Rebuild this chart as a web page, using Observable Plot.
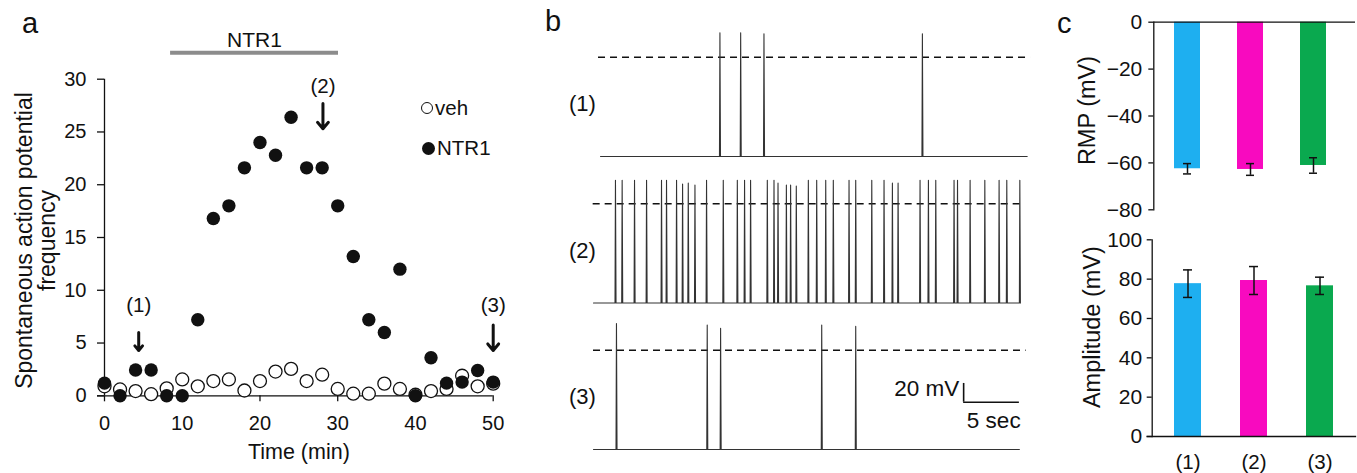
<!DOCTYPE html>
<html><head><meta charset="utf-8">
<script src="https://cdn.jsdelivr.net/npm/d3@7"></script>
<script src="https://cdn.jsdelivr.net/npm/@observablehq/plot@0.6"></script>
<style>
body{margin:0;background:#fff;font-family:"Liberation Sans",Arial,sans-serif;}
#root{position:relative;width:1357px;height:473px;overflow:hidden;background:#fff;}
.panel{position:absolute;}
.plabel{position:absolute;font-size:29px;color:#111;line-height:1;}
.leg{position:absolute;font-size:20.5px;display:flex;align-items:center;color:#111;line-height:1;}
.leg i{display:inline-block;border-radius:50%;box-sizing:border-box;margin-right:2px;}
</style></head><body><div id="root"></div>
<script>
const FONT = '"Liberation Sans", Arial, sans-serif';
const FS = 20;
const INK = "#111";

// ---------- Panel a data ----------
const timeMin  = [0,2,4,6,8,10,12,14,16,18,20,22,24,26,28,30,32,34,36,38,40,42,44,46,48,50];
const vehFreq  = [0.9,0.6,0.45,0.15,0.7,1.55,0.9,1.4,1.55,0.5,1.4,2.3,2.55,1.4,2.0,0.65,0.2,0.2,1.15,0.65,0.1,0.45,0.65,1.9,0.9,1.15];
const ntr1Freq = [1.2,0,2.45,2.45,0,0,7.2,16.8,18.0,21.6,24.0,22.8,26.4,21.6,21.6,18.0,13.2,7.2,6.0,12.0,0,3.6,1.2,1.3,2.4,1.3];
const xTicksA = [0,10,20,30,40,50];
const yTicksA = [0,5,10,15,20,25,30];
const arrowLabels = ["(1)","(2)","(3)"];
const arrowTime   = [4.4, 28.1, 50];
const arrowTop    = [6.0, 27.7, 6.7];
const arrowBottom = [4.3, 25.3, 4.3];
const arrowLabelY = [8.55, 29.3, 8.55];
const drugName = "NTR1";
const drugStart = 8.5, drugEnd = 30.1, drugBarLevel = 32.5, drugLabelLevel = 33.7;
const legendLabels = ["veh", "NTR1"];

// ---------- Panel b data ----------
const traceLabels = ["(1)","(2)","(3)"];
const spikeTimes1 = [11.34, 13.2, 15.29, 29.5];
const spikePeaks1 = [26, 26, 25, 25];
const spikeTimes2 = [1.97,2.57,3.68,4.76,6.10,6.55,7.45,7.99,8.50,9.10,10.14,11.64,12.90,13.55,14.09,15.59,16.19,16.55,17.30,17.68,18.19,19.27,20.02,20.83,21.51,22.92,23.52,24.96,26.06,26.81,27.32,29.29,30.04,30.70,32.34,32.65,33.78,35.10,36.38,37.07,38.24];
const spikePeaks2 = [25,25,25,25,25,25,25,21,22,20,25,25,25,25,25,25,25,22,20,20,19,25,25,25,25,25,25,25,25,22,22,25,25,25,25,25,25,25,25,25,25];
const spikeTimes3 = [2.06, 10.2, 11.4, 20.47, 23.52];
const spikePeaks3 = [28.6, 27, 23.6, 27, 25.5];
const traceStart = [0.63, 0, 0];
const traceEnd   = [38.9, 38.3, 38.2];
const dashStart  = [0.45, -0.03, 0];
const dashEnd    = [39.2, 38.6, 38.8];
const restLevel = -106;     // mV relative to the dashed 0 mV line
const traceOffset = 156.5;  // vertical stacking (mV)
const scaleBarTime = 33.2, scaleBarSec = 5, scaleBarLevel = -368.4, scaleBarMV = 20;

// ---------- Panel c data ----------
const conditions = ["(1)","(2)","(3)"];
const rmpMean = [-62.5, -62.8, -61.1];
const rmpErr  = [2.2, 2.5, 3.3];
const ampMean = [77.7, 79.3, 76.6];
const ampErr  = [7.0, 7.1, 4.4];
const barColors = ["#1eaff0", "#f80abf", "#0aa94f"];
const rmpTicks = [-80,-60,-40,-20,0];
const ampTicks = [0,20,40,60,80,100];

const root = document.getElementById("root");
function place(el, left, top) {
  const d = document.createElement("div");
  d.className = "panel"; d.style.left = left + "px"; d.style.top = top + "px";
  d.appendChild(el); root.appendChild(d);
}
function label(txt, left, top) {
  const d = document.createElement("div");
  d.className = "plabel"; d.textContent = txt;
  d.style.left = left + "px"; d.style.top = top + "px";
  root.appendChild(d);
}
const baseStyle = {fontFamily: FONT, fontSize: FS + "px", color: INK, background: "transparent", overflow: "visible"};

// ---------- Panel a ----------
const vehRows = timeMin.map((t, i) => ({t, f: vehFreq[i]}));
const ntrRows = timeMin.map((t, i) => ({t, f: ntr1Freq[i]}));
const arrowRows = arrowLabels.map((l, i) => ({l, x: arrowTime[i], y1: arrowTop[i], y2: arrowBottom[i], ly: arrowLabelY[i]}));
const plotA = Plot.plot({
  width: 540, height: 473,
  marginLeft: 104, marginRight: 47.3, marginTop: 78.7, marginBottom: 77.7,
  x: {domain: [0, 50]}, y: {domain: [0, 30]},
  style: baseStyle,
  marks: [
    Plot.axisX({ticks: xTicksA, tickSize: 6, tickPadding: 13.5, label: null, fontSize: FS, strokeWidth: 1.3}),
    Plot.axisY({ticks: yTicksA, tickSize: 7, tickPadding: 11, label: null, fontSize: FS, strokeWidth: 1.3}),
    Plot.ruleX([0], {y1: 0, y2: 30, stroke: INK, strokeWidth: 1.3}),
    Plot.ruleY([0], {x1: -0.9, x2: 50, stroke: INK, strokeWidth: 1.3}),
    Plot.dot(vehRows, {x: "t", y: "f", r: 6.5, fill: "white", stroke: INK, strokeWidth: 1.3}),
    Plot.dot(ntrRows, {x: "t", y: "f", r: 6.7, fill: INK, stroke: "none"}),
    Plot.ruleY([drugBarLevel], {x1: drugStart, x2: drugEnd, stroke: "#8c8c8c", strokeWidth: 4}),
    Plot.text([drugName], {x: (drugStart + drugEnd) / 2, y: drugLabelLevel, text: d => d, fontSize: 21, fill: INK}),
    Plot.arrow(arrowRows, {x1: "x", y1: "y1", x2: "x", y2: "y2", stroke: INK, strokeWidth: 3, headLength: 12, headAngle: 80}),
    Plot.text(arrowRows, {x: "x", y: "ly", text: "l", fontSize: 20.5, fill: INK}),
    Plot.text(["Time (min)"], {frameAnchor: "bottom", dy: 56.5, lineAnchor: "middle", text: d => d, fontSize: 21.5, fill: INK}),
    Plot.text(["Spontaneous action potential\nfrequency"], {frameAnchor: "left", textAnchor: "middle", rotate: -90, dx: -68.2, dy: 3, lineAnchor: "middle", lineHeight: 1.0, text: d => d, fontSize: 23, fill: INK})
  ]
});
place(plotA, 0, 0);
label("a", 22, 9);
// legend
const leg1 = document.createElement("div");
leg1.className = "leg"; leg1.style.left = "421px"; leg1.style.top = "98px";
leg1.innerHTML = '<i style="width:12px;height:12px;border:1.3px solid #111;background:#fff"></i>' + legendLabels[0];
root.appendChild(leg1);
const leg2 = document.createElement("div");
leg2.className = "leg"; leg2.style.left = "422px"; leg2.style.top = "138px";
leg2.innerHTML = '<i style="width:13px;height:13px;background:#111"></i>' + legendLabels[1];
root.appendChild(leg2);

// ---------- Panel b ----------
const spikeSets = [[spikeTimes1, spikePeaks1], [spikeTimes2, spikePeaks2], [spikeTimes3, spikePeaks3]];
const tracePts = [];
spikeSets.forEach(([times, peaks], k) => {
  const off = -traceOffset * k;
  tracePts.push({k, t: traceStart[k], v: restLevel + off});
  times.forEach((s, j) => {
    tracePts.push({k, t: s - 0.04, v: restLevel + off});
    tracePts.push({k, t: s, v: peaks[j] + off});
    tracePts.push({k, t: s + 0.05, v: restLevel + off});
  });
  tracePts.push({k, t: traceEnd[k], v: restLevel + off});
});
const dashRows = traceLabels.map((l, k) => ({v: -traceOffset * k, t1: dashStart[k], t2: dashEnd[k]}));
const tlabRows = traceLabels.map((l, k) => ({l, t: -1.0, v: -traceOffset * k - 50}));
const plotB = Plot.plot({
  width: 500, height: 473,
  marginLeft: 53, marginRight: 20, marginTop: 56.7, marginBottom: 23,
  x: {domain: [0, 38.3], axis: null}, y: {domain: [-420, 0], axis: null},
  style: baseStyle,
  marks: [
    Plot.ruleY(dashRows, {y: "v", x1: "t1", x2: "t2", stroke: INK, strokeWidth: 1.6, strokeDasharray: "7,5"}),
    Plot.line(tracePts, {x: "t", y: "v", z: "k", stroke: "#333", strokeWidth: 1.1}),
    Plot.text(tlabRows, {x: "t", y: "v", text: "l", fontSize: 22, fill: INK}),
    Plot.ruleX([scaleBarTime], {y1: scaleBarLevel, y2: scaleBarLevel + scaleBarMV, stroke: INK, strokeWidth: 1.6}),
    Plot.ruleY([scaleBarLevel], {x1: scaleBarTime, x2: scaleBarTime + scaleBarSec, stroke: INK, strokeWidth: 1.6}),
    Plot.text([scaleBarMV + " mV"], {x: scaleBarTime - 0.4, y: scaleBarLevel + 14.6, text: d => d, textAnchor: "end", fontSize: 22.5, fill: INK}),
    Plot.text([scaleBarSec + " sec"], {x: scaleBarTime + 2.7, y: scaleBarLevel - 20, text: d => d, fontSize: 22.5, fill: INK})
  ]
});
place(plotB, 540, 0);
label("b", 545, 7);

// ---------- Panel c ----------
const rmpRows = conditions.map((c, i) => ({c, m: rmpMean[i], lo: rmpMean[i] - rmpErr[i], hi: rmpMean[i] + rmpErr[i]}));
const ampRows = conditions.map((c, i) => ({c, m: ampMean[i], lo: ampMean[i] - ampErr[i], hi: ampMean[i] + ampErr[i]}));
const plotC1 = Plot.plot({
  width: 317, height: 230,
  marginLeft: 113.3, marginRight: 2, marginTop: 21.7, marginBottom: 20.7,
  x: {domain: conditions, paddingInner: 0.594, paddingOuter: 0.373, align: 0.42, axis: null},
  y: {domain: [-80, 0]},
  color: {domain: conditions, range: barColors},
  style: baseStyle,
  marks: [
    Plot.barY(rmpRows, {x: "c", y: "m", fill: "c"}),
    Plot.ruleX(rmpRows, {x: "c", y1: "lo", y2: "hi", stroke: INK, strokeWidth: 1.5}),
    Plot.tickY(rmpRows, {x: "c", y: "lo", stroke: INK, strokeWidth: 1.5, insetLeft: 9, insetRight: 9}),
    Plot.tickY(rmpRows, {x: "c", y: "hi", stroke: INK, strokeWidth: 1.5, insetLeft: 9, insetRight: 9}),
    Plot.axisY({ticks: rmpTicks, tickSize: 5, tickPadding: 6.5, label: null, fontSize: 21, strokeWidth: 1.3}),
    Plot.frame({anchor: "left", stroke: INK, strokeWidth: 1.3}),
    Plot.ruleY([0], {stroke: INK, strokeWidth: 1.3}),
    Plot.text(["RMP (mV)"], {frameAnchor: "left", textAnchor: "middle", rotate: -90, dx: -66.6, dy: -5.5, text: d => d, fontSize: 23.5, fill: INK})
  ]
});
place(plotC1, 1040, 0);
const plotC2 = Plot.plot({
  width: 317, height: 243,
  marginLeft: 111.7, marginRight: 2, marginTop: 9.3, marginBottom: 37,
  x: {domain: conditions, paddingInner: 0.597, paddingOuter: 0.316, align: 0.5},
  y: {domain: [0, 100]},
  color: {domain: conditions, range: barColors},
  style: baseStyle,
  marks: [
    Plot.barY(ampRows, {x: "c", y: "m", fill: "c"}),
    Plot.ruleX(ampRows, {x: "c", y1: "lo", y2: "hi", stroke: INK, strokeWidth: 1.5}),
    Plot.tickY(ampRows, {x: "c", y: "lo", stroke: INK, strokeWidth: 1.5, insetLeft: 9, insetRight: 9}),
    Plot.tickY(ampRows, {x: "c", y: "hi", stroke: INK, strokeWidth: 1.5, insetLeft: 9, insetRight: 9}),
    Plot.axisX({tickSize: 0, tickPadding: 18, label: null, fontSize: 20.5}),
    Plot.axisY({ticks: ampTicks, tickSize: 5, tickPadding: 5, label: null, fontSize: 21, strokeWidth: 1.3}),
    Plot.frame({anchor: "left", stroke: INK, strokeWidth: 1.3}),
    Plot.frame({anchor: "bottom", stroke: INK, strokeWidth: 1.3, insetLeft: -5}),
    Plot.text(["Amplitude (mV)"], {frameAnchor: "left", textAnchor: "middle", rotate: -90, dx: -60, dy: -11, text: d => d, fontSize: 23.5, fill: INK})
  ]
});
place(plotC2, 1040, 230);
label("c", 1057, 9);
</script></body></html>
